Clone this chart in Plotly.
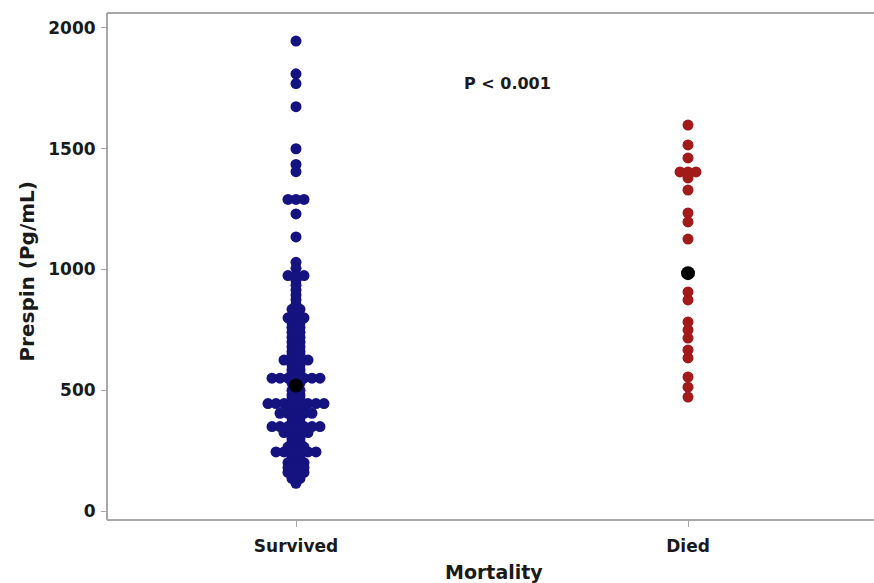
import plotly.graph_objects as go
from collections import OrderedDict

# ---- data ----
categories = ["Survived", "Died"]

survived = (
    [1946, 1810, 1770, 1674, 1500, 1435, 1405]
    + [1290] * 3 + [1230, 1135, 1030, 1005]
    + [975] * 3 + [955, 935, 915, 895, 875, 855]
    + [835] * 2 + [815] + [800] * 3
    + [780] * 2 + [760] * 2 + [740] * 2 + [720] * 2 + [700] * 2
    + [680] * 2 + [660] * 2 + [645] * 2 + [625] * 4 + [605] * 2
    + [585] * 2 + [570] * 2 + [550] * 7 + [530] * 2 + [500] * 2
    + [480] * 2 + [465] * 2 + [445] * 8 + [425] * 3 + [405] * 5
    + [385] * 2 + [365] * 2 + [350] * 7 + [325] * 4 + [300] * 2
    + [285] * 2 + [265] * 3 + [245] * 6 + [225] * 2 + [200] * 3
    + [180] * 3 + [160] * 3 + [135] * 2 + [115]
)

died = (
    [1598, 1516, 1462] + [1404] * 3 + [1379, 1329, 1234, 1197, 1126,
    907, 874, 783, 750, 716, 667, 634, 555, 513, 472]
)

medians = [520, 985]

y_tick_vals = [0, 500, 1000, 1500, 2000]
p_text = "P < 0.001"

# ---- layout constants (pixels) ----
W, H = 874, 583
L, R, T, B = 107, 0, 13, 63
plot_w = W - L - R
px_per_cat = 392.0
step_px = 8.0
step = step_px / px_per_cat

FONT = "DejaVu Sans"
TXT = "#1a1a1a"
AX = "#a8a8a8"


def dot_offsets(values, center, bin_width=10):
    """Symmetric dot-plot: values in the same bin are spread side by side."""
    groups = OrderedDict()
    for v in values:
        groups.setdefault(round(v / bin_width), []).append(v)
    xs, ys = [], []
    for _, vs in groups.items():
        n = len(vs)
        for i, v in enumerate(vs):
            xs.append(center + (i - (n - 1) / 2) * step)
            ys.append(v)
    return xs, ys


sx, sy = dot_offsets(survived, 0)
dx, dy = dot_offsets(died, 1)

fig = go.Figure()
fig.add_trace(go.Scatter(
    x=sx, y=sy, mode="markers",
    marker=dict(size=11, color="#15137f", line=dict(width=0)),
    showlegend=False, hoverinfo="y"))
fig.add_trace(go.Scatter(
    x=dx, y=dy, mode="markers",
    marker=dict(size=11, color="#a11b1b", line=dict(width=0)),
    showlegend=False, hoverinfo="y"))
fig.add_trace(go.Scatter(
    x=[0, 1], y=medians, mode="markers",
    marker=dict(size=14, color="#000000", line=dict(width=0)),
    showlegend=False, hoverinfo="y"))

x_lo = (L - 296) / px_per_cat
x_hi = (W - 296) / px_per_cat

frame = dict(color=AX, width=2)
fig.update_layout(
    width=W, height=H,
    margin=dict(l=L, r=R, t=T, b=B, pad=0),
    paper_bgcolor="white", plot_bgcolor="white",
    font=dict(family=FONT, color=TXT),
    xaxis=dict(
        range=[x_lo, x_hi], tickmode="array", tickvals=[0, 1],
        ticktext=categories, showgrid=False, zeroline=False,
        showline=False,
        ticks="outside", ticklen=6, tickcolor=AX, tickwidth=1,
        tickfont=dict(family=FONT, size=17, weight="bold", color=TXT),
        ticklabelstandoff=5,
    ),
    yaxis=dict(
        range=[-37, 2062], tickmode="array", tickvals=y_tick_vals,
        showgrid=False, zeroline=False, showline=False,
        ticks="outside", ticklen=5, tickcolor=AX, tickwidth=1,
        tickfont=dict(family=FONT, size=17, weight="bold", color=TXT),
        ticklabelstandoff=2,
    ),
    shapes=[
        dict(type="line", xref="paper", yref="paper", x0=0, x1=1, y0=1, y1=1, line=frame),
        dict(type="line", xref="paper", yref="paper", x0=0, x1=1, y0=0, y1=0, line=frame),
        dict(type="line", xref="paper", yref="paper", x0=0, x1=0, y0=0, y1=1, line=frame),
    ],
    annotations=[
        dict(text=p_text, x=0.54, y=1770, xref="x", yref="y",
             showarrow=False, xanchor="center", yanchor="middle",
             font=dict(family=FONT, size=16, weight="bold", color=TXT)),
        dict(text="Prespin (Pg/mL)", x=(27 - L) / plot_w, y=0.49,
             xref="paper", yref="paper", showarrow=False, textangle=-90,
             xanchor="center", yanchor="middle",
             font=dict(family=FONT, size=20, weight="bold", color=TXT)),
        dict(text="Mortality", x=(494 - L) / plot_w, y=-52 / 507,
             xref="paper", yref="paper", showarrow=False,
             xanchor="center", yanchor="middle",
             font=dict(family=FONT, size=19, weight="bold", color=TXT)),
    ],
)

fig.write_html("out.html")
